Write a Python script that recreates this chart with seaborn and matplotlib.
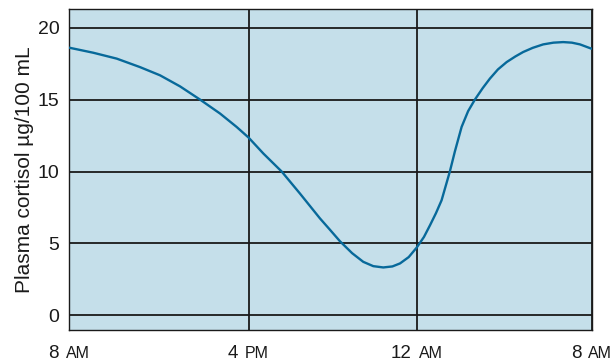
import matplotlib
matplotlib.use("Agg")
import matplotlib.pyplot as plt
import seaborn as sns
import pandas as pd
from matplotlib.offsetbox import TextArea, HPacker, AnnotationBbox

# Data (hours after 8 AM, plasma cortisol in µg/100 mL)
hours = [0, 1.10, 2.18, 3.25, 4.17, 5.09, 6.01, 6.93, 7.69, 8.24, 8.92, 9.76,
         10.60, 11.52, 11.98, 12.44, 13.0, 13.51, 13.97, 14.43, 14.85, 15.2, 15.6,
         15.97, 16.3, 16.58, 16.85, 17.11, 17.49, 17.72, 18.03, 18.33, 18.64, 19.0,
         19.33, 19.7, 20.10, 20.5, 20.86, 21.3, 21.78, 22.25, 22.70, 23.1, 23.47, 24]
cortisol = [18.61, 18.26, 17.85, 17.26, 16.69, 15.92, 15.0, 14.03, 13.1, 12.36, 11.25, 10.0,
            8.47, 6.74, 5.95, 5.15, 4.32, 3.72, 3.42, 3.33, 3.40, 3.61, 4.05,
            4.72, 5.45, 6.27, 7.1, 8.0, 10.0, 11.39, 13.1, 14.2, 15.0, 15.8,
            16.46, 17.1, 17.61, 18.0, 18.31, 18.6, 18.84, 18.96, 19.0, 18.96, 18.84, 18.54]
tick_pos = [0, 8.24, 15.97, 24]
tick_num = ["8", "4", "12", "8"]
tick_suffix = ["AM", "PM", "AM", "AM"]
y_ticks = [0, 5, 10, 15, 20]

sns.set_style("white")
plt.rcParams["font.family"] = ["Liberation Sans", "DejaVu Sans"]

fig = plt.figure(figsize=(6.14, 3.62), dpi=100)
ax = fig.add_axes([69.3 / 614, 32 / 362, (591.5 - 69.3) / 614, (352.7 - 32) / 362])
ax.set_facecolor("#c5dfea")

df = pd.DataFrame({"hours": hours, "cortisol": cortisol})
sns.lineplot(data=df, x="hours", y="cortisol", color="#07699a", lw=1.7, ax=ax,
             sort=False, zorder=3)

ax.set_xlim(0, 24)
ax.set_ylim(-1.02, 21.28)
ax.set_yticks(y_ticks)
ax.set_yticklabels([str(v) for v in y_ticks], fontsize=14, color="#1a1a1a")
ax.set_xticks(tick_pos)
ax.set_xticklabels([""] * len(tick_pos))
ax.tick_params(axis="both", length=0, pad=7)
ax.grid(True, color="#1a1a1a", lw=1.3)
ax.set_axisbelow(True)
for s in ax.spines.values():
    s.set_color("#1a1a1a")
    s.set_linewidth(1.0)

ax.set_xlabel("")
ax.set_ylabel("Plasma cortisol \u00b5g/100 mL", fontsize=15, color="#1a1a1a", labelpad=3)

for pos, num, suf in zip(tick_pos, tick_num, tick_suffix):
    pack = HPacker(children=[TextArea(num, textprops=dict(size=13.5, color="#1a1a1a")),
                             TextArea(suf, textprops=dict(size=11.5, color="#1a1a1a"))],
                   align="baseline", pad=0, sep=5)
    ab = AnnotationBbox(pack, (pos, 0), xycoords=ax.get_xaxis_transform(),
                        xybox=(0, -11), boxcoords="offset points",
                        box_alignment=(0.5, 1), frameon=False, annotation_clip=False)
    ax.add_artist(ab)

fig.savefig("out.png", dpi=100)
